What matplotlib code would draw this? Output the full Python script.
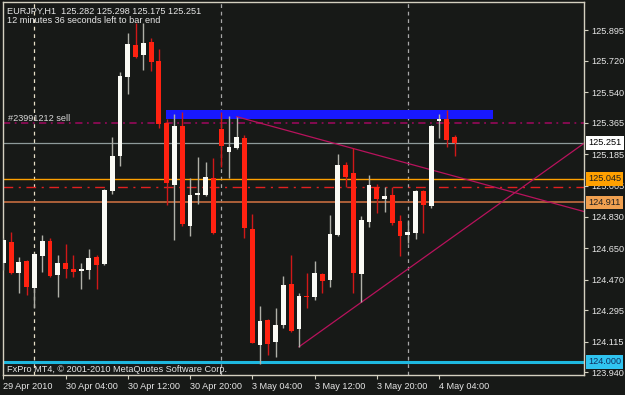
import numpy as np
import matplotlib
matplotlib.use("Agg")
import matplotlib.pyplot as plt
import matplotlib.transforms as mtransforms

# ---------------- data (EURJPY H1) ----------------
opens = [124.564, 124.686, 124.506, 124.576, 124.423, 124.606, 124.690, 124.496, 124.566, 124.528,
         124.519, 124.524, 124.599, 124.557, 124.977, 125.177, 125.628, 125.809, 125.752, 125.828,
         125.718, 125.362, 125.010, 125.348, 124.777, 124.951, 124.953, 125.048, 125.330, 125.197,
         125.223, 125.277, 124.759, 124.096, 124.239, 124.111, 124.210, 124.443, 124.186, 124.376,
         124.372, 124.500, 124.467, 124.724, 125.124, 125.077, 124.502, 124.800, 125.000, 124.930,
         124.953, 124.804, 124.724, 124.734, 124.976, 124.890, 125.375, 125.387, 125.282]
highs = [124.707, 124.741, 124.600, 124.582, 124.621, 124.724, 124.705, 124.610, 124.673, 124.610,
         124.566, 124.644, 124.610, 124.987, 125.282, 125.653, 125.876, 125.937, 125.937, 125.851,
         125.785, 125.387, 125.414, 125.425, 125.048, 125.171, 125.139, 125.162, 125.425, 125.406,
         125.400, 125.295, 124.844, 124.321, 124.245, 124.306, 124.492, 124.610, 124.391, 124.506,
         124.576, 124.509, 124.839, 125.187, 125.139, 125.219, 124.833, 125.067, 125.016, 125.000,
         125.000, 124.839, 124.810, 124.981, 124.981, 125.352, 125.415, 125.438, 125.298]
lows = [124.524, 124.504, 124.393, 124.382, 124.307, 124.515, 124.482, 124.368, 124.477, 124.483,
        124.416, 124.471, 124.414, 124.553, 124.958, 125.120, 125.530, 125.735, 125.667, 125.663,
        125.337, 124.896, 124.696, 124.774, 124.719, 124.901, 124.950, 124.730, 125.114, 125.052,
        125.218, 124.707, 124.106, 123.988, 124.039, 124.029, 124.191, 124.173, 124.086, 124.306,
        124.353, 124.395, 124.429, 124.720, 124.997, 124.391, 124.343, 124.772, 124.848, 124.857,
        124.781, 124.607, 124.677, 124.701, 124.734, 124.878, 125.278, 125.229, 125.175]
closes = [124.696, 124.509, 124.572, 124.429, 124.616, 124.690, 124.490, 124.566, 124.528, 124.513,
          124.528, 124.591, 124.551, 124.981, 125.175, 125.632, 125.815, 125.739, 125.822, 125.714,
          125.360, 125.020, 125.348, 124.789, 124.953, 124.962, 125.054, 124.734, 125.234, 125.227,
          125.282, 124.764, 124.109, 124.233, 124.102, 124.210, 124.439, 124.178, 124.376, 124.368,
          124.506, 124.463, 124.728, 125.124, 125.057, 124.506, 124.810, 125.010, 124.930, 124.947,
          124.795, 124.719, 124.743, 124.977, 124.896, 125.347, 125.387, 125.267, 125.251]

y_ticks = [125.895, 125.720, 125.540, 125.365, 125.185, 125.005,
           124.830, 124.650, 124.470, 124.295, 124.115, 123.940]
x_tick_bars = [0, 8, 16, 24, 32, 40, 48, 56]
x_tick_labels = ["29 Apr 2010", "30 Apr 04:00", "30 Apr 12:00", "30 Apr 20:00",
                 "3 May 04:00", "3 May 12:00", "3 May 20:00", "4 May 04:00"]
day_separators = [4, 28, 52]

order_price = 125.365
bid_price = 125.251
level_orange = 125.045
level_red = 125.000
level_brown = 124.911
level_cyan = 124.000

rect_bars = [20.9, 62.9]
rect_prices = [125.385, 125.438]
trend_down = [(30, 125.400), (45, 125.218)]
trend_up = [(38, 124.086), (52, 124.530)]

# ---------------- figure ----------------
BG = "#171917"
FRAME = "#D4D0C0"
TXT = "#E6E6E6"
plt.rcParams['font.family'] = ['Liberation Sans', 'DejaVu Sans']

W, H = 625, 395
fig = plt.figure(figsize=(W / 100, H / 100), dpi=100)
fig.patch.set_facecolor(BG)
ax = fig.add_axes([3 / W, 20 / H, 581 / W, 373 / H])
ax.set_facecolor(BG)

x_max = 74.64
ax.set_xlim(-0.04, x_max)
ax.set_ylim(123.925, 126.055)

# separators
for i, b in enumerate(day_separators):
    col = "#E8E0C8" if i == 0 else "#A8A8A8"
    ax.axvline(b, color=col, lw=0.9, ls=(0, (3, 3)), zorder=1)

# horizontal levels
ax.axhline(order_price, color="#8C0A55", lw=1.3, ls=(0, (4, 2.5, 1, 2.5)), zorder=1)
ax.axhline(bid_price, color="#8E9A9A", lw=0.9, zorder=1)
ax.axhline(level_orange, color="#FFA000", lw=1.0, zorder=1)
ax.axhline(level_red, color="#E02020", lw=1.0, ls=(0, (7, 4, 1.5, 4)), zorder=1)
ax.axhline(level_brown, color="#B8663C", lw=1.3, zorder=1)
ax.axhline(level_cyan, color="#1EB8E0", lw=2.2, zorder=1)

# blue rectangle
ax.fill_between(rect_bars, rect_prices[0], rect_prices[1], color="#1818FF", lw=0, zorder=1.5)

# trend lines (rays to the right edge)
for (x0, y0), (x1, y1) in [trend_down, trend_up]:
    slope = (y1 - y0) / (x1 - x0)
    ax.plot([x0, x_max], [y0, y0 + slope * (x_max - x0)], color="#B8125C", lw=0.9, zorder=1.8)

# candles
o = np.array(opens); h = np.array(highs); l = np.array(lows); c = np.array(closes)
idx = np.arange(len(o))
up = c >= o
ax.vlines(idx[up], l[up], h[up], color="#B0B0A8", lw=1.0, zorder=3)
ax.vlines(idx[~up], l[~up], h[~up], color="#D01818", lw=1.0, zorder=3)
bottom = np.minimum(o, c)
height = np.maximum(np.abs(c - o), 0.008)
ax.bar(idx[up], height[up], bottom=bottom[up], width=0.62, color="#FAFAF4", lw=0, zorder=3.2)
ax.bar(idx[~up], height[~up], bottom=bottom[~up], width=0.62, color="#FF2211", lw=0, zorder=3.2)

# axes styling
for s in ax.spines.values():
    s.set_color(FRAME)
    s.set_linewidth(1.0)
ax.yaxis.tick_right()
ax.set_yticks(y_ticks)
ax.set_yticklabels([f"{v:.3f}" for v in y_ticks])
ax.set_xticks(x_tick_bars)
ax.set_xticklabels(x_tick_labels, ha="left")
ax.tick_params(axis="y", colors=FRAME, labelcolor=TXT, labelsize=6.6, length=3, pad=2)
ax.tick_params(axis="x", colors=FRAME, labelcolor=TXT, labelsize=6.6, length=3, pad=2)

# price boxes on the right scale
tr = mtransforms.blended_transform_factory(fig.transFigure, ax.transData)
boxes = [(bid_price, "#FFFFFF", "#000000"),
         (level_orange, "#FFA000", "#202020"),
         (level_brown, "#F0A050", "#202020"),
         (level_cyan, "#30C4F0", "#103060")]
for p, fc, tc in boxes:
    ax.text(588 / W, p, f"{p:.3f}", transform=tr, fontsize=6.6, color=tc, va="center", ha="left",
            bbox=dict(boxstyle="square,pad=0.25", fc=fc, ec="none"), clip_on=False, zorder=5)

# texts
fig.text(7 / W, 1 - 11 / H, "EURJPY,H1  125.282 125.298 125.175 125.251", fontsize=6.6,
         color=TXT, va="center", ha="left")
fig.text(7 / W, 1 - 20.5 / H, "12 minutes 36 seconds left to bar end", fontsize=6.6,
         color=TXT, va="center", ha="left")
ax.text(0.009, order_price, "#23991212 sell", transform=mtransforms.blended_transform_factory(ax.transAxes, ax.transData),
        fontsize=6.6, color="#D8D8D8", va="bottom", ha="left")
fig.text(7 / W, 1 - 370 / H, "FxPro MT4, \u00a9 2001-2010 MetaQuotes Software Corp.", fontsize=6.6,
         color=TXT, va="center", ha="left")

fig.savefig("out.png", dpi=100, facecolor=BG)
